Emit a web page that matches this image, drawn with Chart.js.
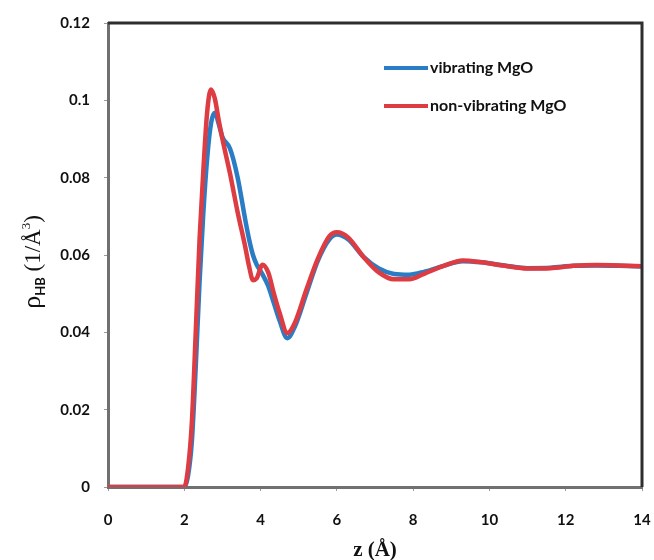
<!DOCTYPE html>
<html>
<head>
<meta charset="utf-8">
<script src="https://cdn.jsdelivr.net/npm/chart.js@4.4.0/dist/chart.umd.min.js"></script>
<style>
  html, body { margin: 0; padding: 0; background: #fff; overflow: hidden; }
  #wrap { width: 654px; height: 560px; position: relative; }
</style>
</head>
<body>
<div id="wrap"><canvas id="chartHB"></canvas></div>
<script>
/* ====== DATA ====== */
const zValues = [0, 2.0, 2.1, 2.2, 2.3, 2.4, 2.5, 2.6, 2.7, 2.8, 2.9, 3.0, 3.2, 3.4, 3.6, 3.7, 3.8, 3.9, 4.05, 4.2, 4.35, 4.5, 4.7, 4.9, 5.2, 5.5, 5.8, 6.0, 6.3, 6.7, 7.1, 7.5, 7.9, 8.3, 8.8, 9.3, 9.8, 10.4, 11.0, 11.6, 12.2, 12.8, 13.4, 14];

const vibrating = [0, 0, 0.003, 0.012, 0.031, 0.053, 0.071, 0.085, 0.094, 0.0968, 0.094, 0.0905, 0.0875, 0.080, 0.069, 0.064, 0.060, 0.0575, 0.055, 0.052, 0.0475, 0.043, 0.0385, 0.0415, 0.050, 0.0585, 0.064, 0.0653, 0.064, 0.0595, 0.0565, 0.0551, 0.0549, 0.0557, 0.0572, 0.0584, 0.0581, 0.0573, 0.0566, 0.0567, 0.0572, 0.0573, 0.0572, 0.0570];

const nonVibrating = [0, 0, 0.005, 0.017, 0.040, 0.064, 0.082, 0.097, 0.1028, 0.1005, 0.095, 0.090, 0.081, 0.071, 0.062, 0.057, 0.0535, 0.054, 0.0575, 0.0555, 0.050, 0.045, 0.0398, 0.0425, 0.051, 0.059, 0.0648, 0.0659, 0.0645, 0.0595, 0.0555, 0.0537, 0.0537, 0.0552, 0.0572, 0.0586, 0.0581, 0.0572, 0.0565, 0.0566, 0.0572, 0.0574, 0.0573, 0.0571];

const seriesNames = ["vibrating MgO", "non-vibrating MgO"];
const xTicks = [0, 2, 4, 6, 8, 10, 12, 14];
const yTicks = [0, 0.02, 0.04, 0.06, 0.08, 0.1, 0.12];

const BLUE = "#2a7dc4";
const RED = "#dd3c42";

function toPoints(xs, ys) {
    return xs.map((x, i) => ({ x: x, y: ys[i] }));
}

/* ====== PLUGINS ====== */
// top + right border of the plot box
const frameBox = {
    id: "frameBox",
    afterDraw(chart) {
        const a = chart.chartArea, c = chart.ctx;
        c.save();
        c.strokeStyle = "#2e2e2e";
        c.lineWidth = 3;
        c.beginPath();
        c.moveTo(a.left, a.top);
        c.lineTo(a.right, a.top);
        c.lineTo(a.right, a.bottom);
        c.stroke();
        c.restore();
    }
};

// legend inside the plot + axis titles with sub/superscripts
const labels = {
    id: "labels",
    afterDraw(chart) {
        const c = chart.ctx;
        c.save();
        // legend
        chart.data.datasets.forEach((d, i) => {
            const y = 68 + i * 38;
            c.strokeStyle = d.borderColor;
            c.lineWidth = 4;
            c.beginPath();
            c.moveTo(384, y);
            c.lineTo(428, y);
            c.stroke();
            c.fillStyle = "#111";
            c.font = "bold 16px Lato";
            c.textBaseline = "middle";
            c.textAlign = "left";
            c.fillText(d.label, 430, y);
        });

        // x title
        c.fillStyle = "#111";
        c.textAlign = "center";
        c.textBaseline = "alphabetic";
        c.font = "bold 21px 'Liberation Serif'";
        c.fillText("z (Å)", (chart.chartArea.left + chart.chartArea.right) / 2, 556);

        // y title, rotated
        c.translate(40, 262);
        c.rotate(-Math.PI / 2);
        const parts = [
            { t: "ρ", f: "26px 'Liberation Serif'", dy: 0 },
            { t: "HB", f: "bold 13px Lato", dy: 5 },
            { t: " (1/Å", f: "23px 'Liberation Serif'", dy: 0 },
            { t: "3", f: "13px 'Liberation Serif'", dy: -10 },
            { t: ")", f: "23px 'Liberation Serif'", dy: 0 }
        ];
        let total = 0;
        parts.forEach(p => { c.font = p.f; total += c.measureText(p.t).width; });
        let x = -total / 2;
        c.textAlign = "left";
        parts.forEach(p => {
            c.font = p.f;
            c.fillText(p.t, x, p.dy);
            x += c.measureText(p.t).width;
        });
        c.restore();
    }
};

/* ====== CHART ====== */
new Chart(document.getElementById("chartHB"), {
    type: "line",
    data: {
        datasets: [
            { label: seriesNames[0], data: toPoints(zValues, vibrating), borderColor: BLUE, borderWidth: 4.5, order: 2 },
            { label: seriesNames[1], data: toPoints(zValues, nonVibrating), borderColor: RED, borderWidth: 4.5, order: 1 }
        ]
    },
    options: {
        responsive: true,
        maintainAspectRatio: false,
        animation: false,
        layout: { padding: { left: 0, top: 22, right: 12, bottom: 0 } },
        elements: {
            point: { radius: 0 },
            line: { cubicInterpolationMode: "monotone", fill: false }
        },
        plugins: { legend: { display: false }, tooltip: { enabled: false } },
        scales: {
            x: {
                type: "linear",
                min: 0, max: 14,
                // keep the tick padding from eating into the plot width
                afterFit: s => { s.height = 73; s.paddingLeft = 0; s.paddingRight = 0; },
                afterBuildTicks: s => { s.ticks = xTicks.map(v => ({ value: v })); },
                border: { color: "#707070", width: 3 },
                grid: { drawOnChartArea: false, tickLength: 4, color: "#9a9a9a" },
                ticks: { padding: 20, color: "#111", font: { family: "Lato", size: 15, weight: "bold" }, maxRotation: 0 }
            },
            y: {
                min: 0, max: 0.12,
                afterFit: s => { s.width = 108; },
                afterBuildTicks: s => { s.ticks = yTicks.map(v => ({ value: v })); },
                border: { color: "#707070", width: 3 },
                grid: { drawOnChartArea: false, tickLength: 4, color: "#9a9a9a" },
                ticks: { padding: 14, color: "#111", font: { family: "Lato", size: 15, weight: "bold" }, callback: v => String(+v.toFixed(2)) }
            }
        }
    },
    plugins: [frameBox, labels]
});
</script>
</body>
</html>
